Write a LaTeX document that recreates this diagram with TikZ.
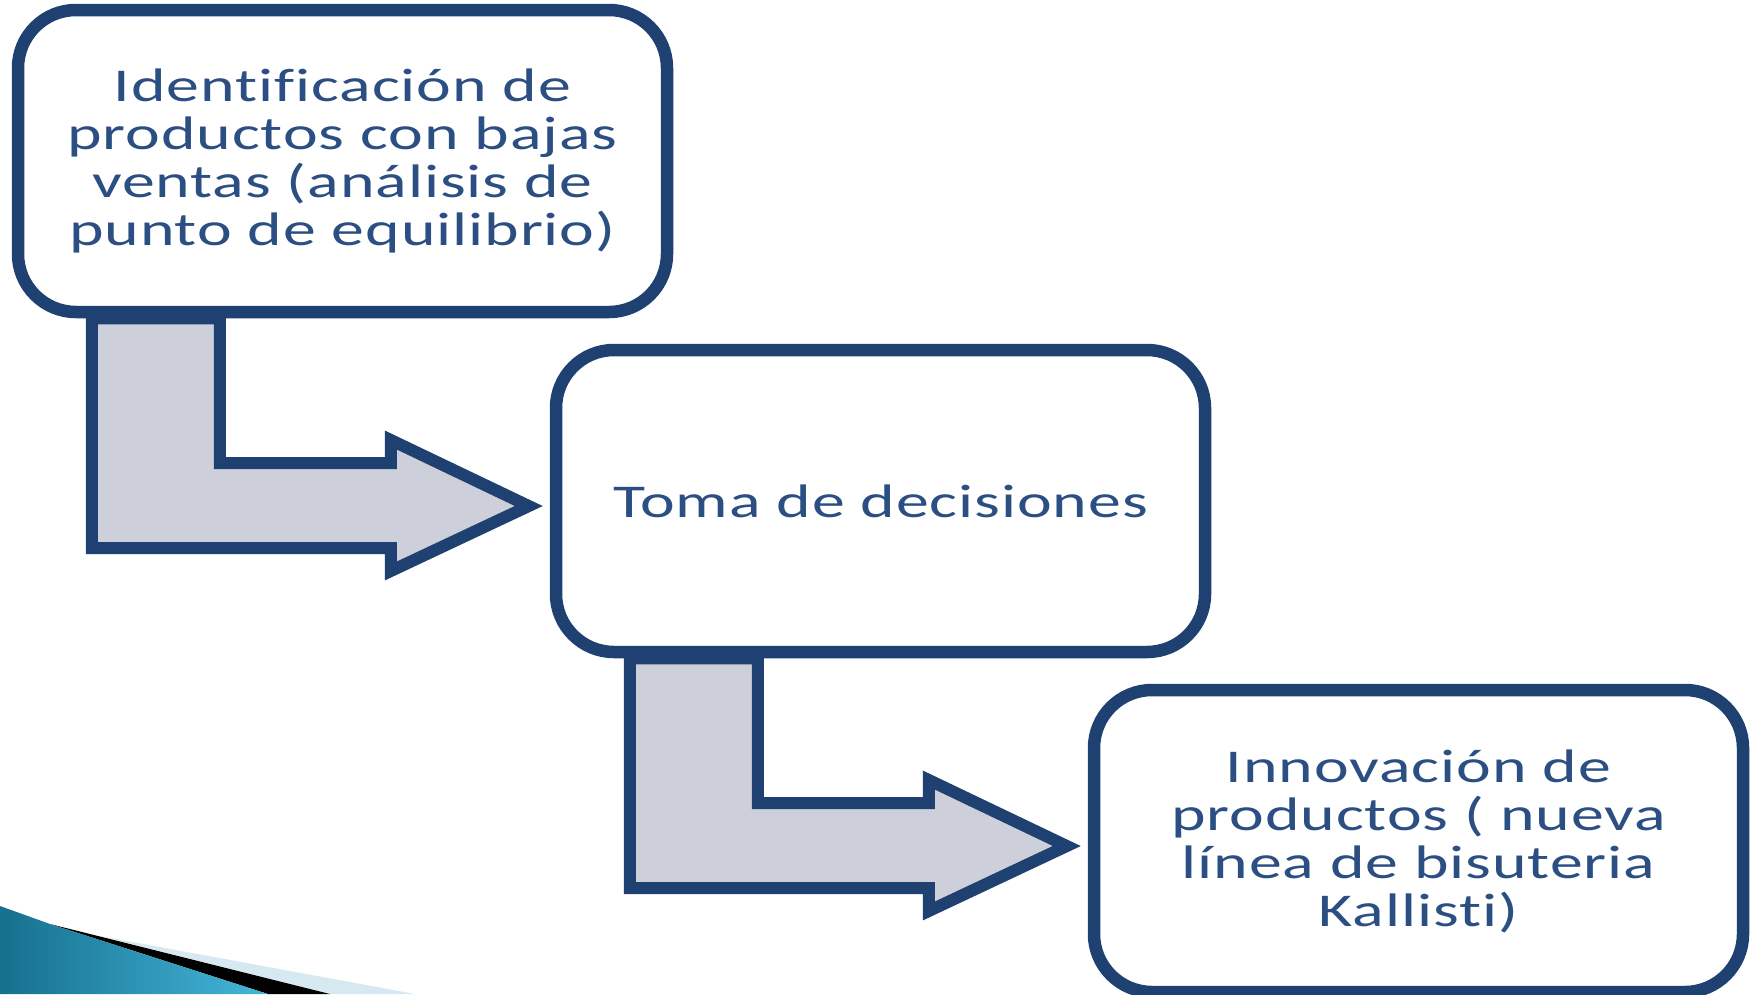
\documentclass[tikz,border=0pt]{standalone}
\usepackage{fontspec}
\setmainfont[FakeStretch=1.4,LetterSpace=2,Ligatures=NoCommon]{Carlito}
\usepackage{tikz}
\usetikzlibrary{calc, positioning, backgrounds}

\definecolor{navy}{HTML}{1F4172}
\definecolor{navytext}{HTML}{2B4F82}
\definecolor{arrowgray}{HTML}{CDD0DA}
\definecolor{swooshlight}{HTML}{D6E9F1}
\definecolor{swooshdark}{HTML}{16708E}
\definecolor{swooshbright}{HTML}{44B6DA}

% elbow block arrow from the bottom of #1 to the left side of #2
\newcommand{\elbowarrow}[2]{%
  \draw[elbow] ($(#1.south west)+(80,0)$)
    |- ($(#2.west)+(-159,47)$) -- ++(0,23) -- ($(#2.west)+(-21,5)$)
    -- ($(#2.west)+(-159,-61)$) -- ++(0,23)
    -| ($(#1.south west)+(208,0)$) -- cycle;}

\begin{document}
\begin{tikzpicture}[
  x=1pt, y=-1pt,
  box/.style={draw=navy, line width=12.5pt, rounded corners=58pt, fill=white,
    minimum width=649pt, minimum height=302pt, inner sep=0pt, align=center,
    text=navytext, font=\fontsize{47}{48}\selectfont},
  elbow/.style={draw=navy, fill=arrowgray, line width=12pt, line join=miter},
]
\useasboundingbox (0,0) rectangle (1755,994);

% Steps
\foreach \i/\txt in {1/{Identificación de\\productos con bajas\\ventas (análisis de\\punto de equilibrio)},
                     2/{Toma de decisiones},
                     3/{Innovación de\\productos ( nueva\\línea de bisuteria\\Kallisti)}} {
  \node[box] (box\i) at ({342.5+538*(\i-1)}, {161+340*(\i-1)}) {\txt};
}

% Connectors
\begin{scope}[on background layer]
  \fill[white] (0,0) rectangle (1755,994);
  \elbowarrow{box1}{box2}
  \elbowarrow{box2}{box3}
\end{scope}

% Corner swoosh
\fill[swooshlight] (100,936) -- (415,994) -- (330,994) -- cycle;
\fill[black] (50,924) -- (330,994) -- (268,994) -- cycle;
\shade[left color=swooshdark, right color=swooshbright]
  (0,906) -- (50,924) -- (268,994) -- (0,994) -- cycle;
\end{tikzpicture}
\end{document}
